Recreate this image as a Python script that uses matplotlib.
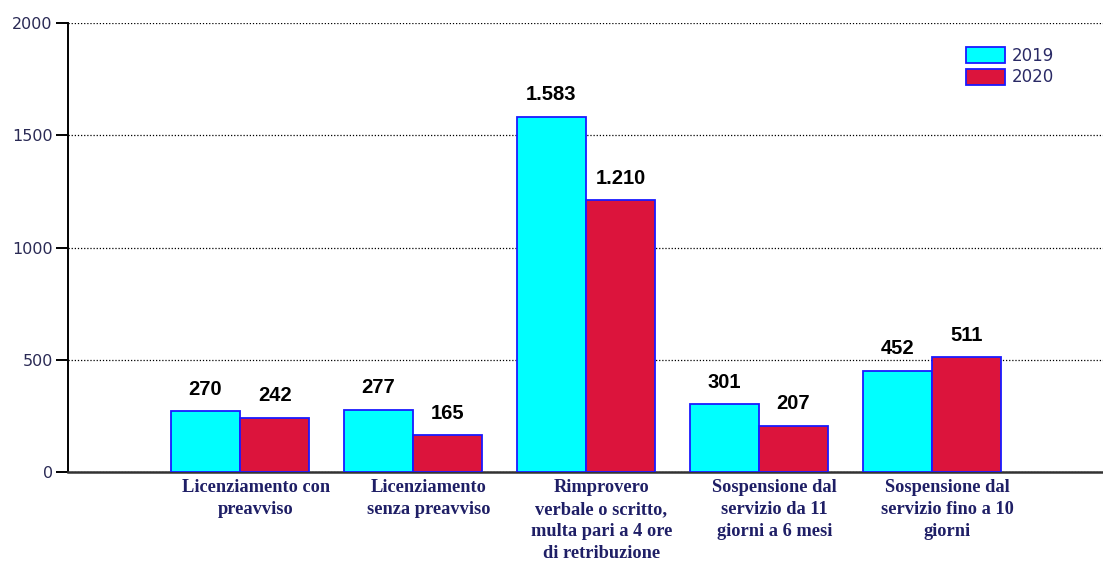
import matplotlib.pyplot as plt
import numpy as np

categories = [
    "Licenziamento con\npreavviso",
    "Licenziamento\nsenza preavviso",
    "Rimprovero\nverbale o scritto,\nmulta pari a 4 ore\ndi retribuzione",
    "Sospensione dal\nservizio da 11\ngiorni a 6 mesi",
    "Sospensione dal\nservizio fino a 10\ngiorni",
]
values_2019 = [270, 277, 1583, 301, 452]
values_2020 = [242, 165, 1210, 207, 511]
series_labels = ["2019", "2020"]
yticks = [0, 500, 1000, 1500, 2000]


def fmt_it(v):
    # Italian thousands separator
    return f"{v:,}".replace(",", ".")


fig = plt.figure(figsize=(11.03, 5.66), dpi=100)
ax = fig.add_axes([0.0617, 0.166, 0.9383, 0.793])

x = np.arange(len(categories))
w = 0.4
b1 = ax.bar(x - w / 2, values_2019, w, color="#00ffff", edgecolor="#1a1aff",
            linewidth=1.3, label=series_labels[0], zorder=3)
b2 = ax.bar(x + w / 2, values_2020, w, color="#dc143c", edgecolor="#1a1aff",
            linewidth=1.3, label=series_labels[1], zorder=3)

for bars in (b1, b2):
    for rect in bars:
        h = rect.get_height()
        ax.annotate(fmt_it(int(h)), (rect.get_x() + rect.get_width() / 2, h),
                    xytext=(0, 9), textcoords="offset points",
                    ha="center", va="bottom", fontsize=14.5, fontweight="bold",
                    family="Liberation Sans", color="black")

ax.set_xlim(-0.995, 4.99)
ax.set_ylim(0, 2000)
ax.set_yticks(yticks)
ax.set_yticklabels([str(t) for t in yticks], family="DejaVu Sans",
                   fontsize=11.5, color="#2a2a55")
ax.yaxis.grid(True, linestyle=(0, (1, 1.5)), color="black", linewidth=0.9, zorder=0)
ax.set_axisbelow(True)

# labels sit a little right of the group centre in the original
ax.set_xticks(x + 0.09)
ax.set_xticklabels(categories, family="Liberation Serif", fontweight="bold",
                   fontsize=13.2, color="#1f1f66", linespacing=1.38)
ax.tick_params(axis="x", length=0, pad=5)
ax.tick_params(axis="y", length=9, width=1.4, direction="out", pad=2)

for s in ("top", "right"):
    ax.spines[s].set_visible(False)
ax.spines["left"].set_linewidth(1.4)
ax.spines["bottom"].set_linewidth(1.8)
ax.spines["bottom"].set_color("#333333")

leg = ax.legend(loc="upper left", bbox_to_anchor=(0.8676, 0.947), frameon=False,
                borderaxespad=0, borderpad=0,
                prop={"family": "DejaVu Sans", "size": 12},
                handlelength=2.35, handleheight=1.1, handletextpad=0.4,
                labelspacing=0.2)
for t in leg.get_texts():
    t.set_color("#2a2a66")

fig.savefig("out.png", dpi=100)
